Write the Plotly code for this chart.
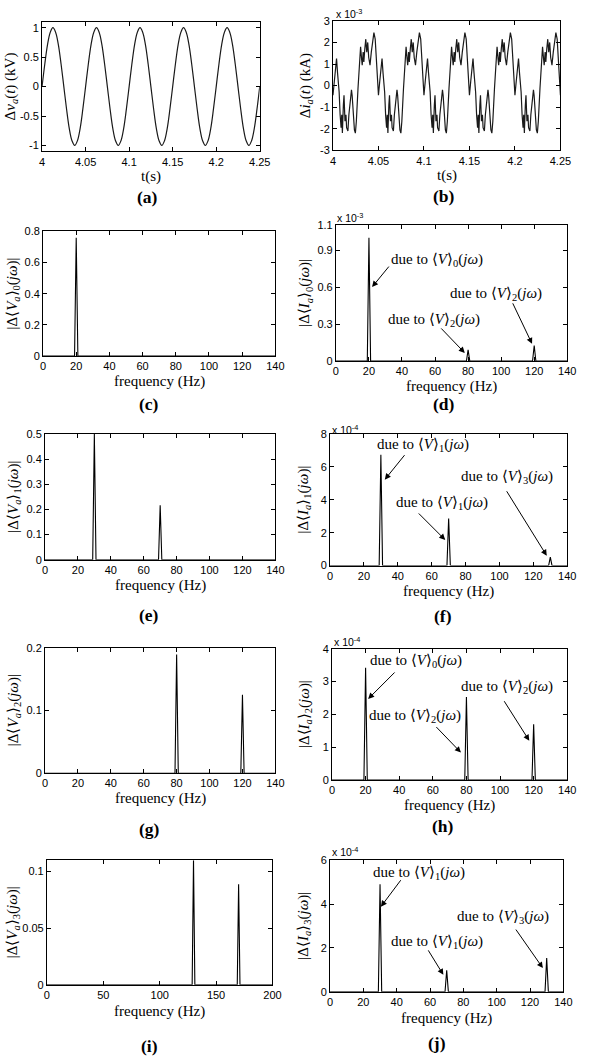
import plotly.graph_objects as go

W, H = 589, 1063

# ---------------- data ----------------
# (a) voltage: one period, repeated over the window
a_period_s = 0.05
a_offset_ms = [0, 3.125, 6.25, 9.375, 12.5, 15.625, 18.75, 21.875,
               25, 28.125, 31.25, 34.375, 37.5, 40.625, 43.75, 46.875]
a_values = [0, 0.38, 0.71, 0.92, 1.0, 0.92, 0.71, 0.38,
            0, -0.38, -0.71, -0.92, -1.0, -0.92, -0.71, -0.38]
n_periods = 5

# (b) current (x 10^-3 kA): one period
b_offset_ms = [0, 1.43, 3.21, 3.93, 5.0, 6.79, 7.86, 8.93, 9.64, 10.36,
               11.43, 12.14, 13.21, 14.29, 15.0, 16.43, 17.5, 19.29, 20.36, 21.07,
               22.14, 23.57, 24.64, 25.71, 27.5, 29.29, 30.36, 31.43, 32.14, 33.21,
               33.93, 35.0, 36.07, 37.14, 38.21, 39.29, 40.71, 42.14, 43.57, 45.0,
               46.43, 47.86, 49.29]
b_values = [-0.45, 0.2, 0.95, 1.25, 0.6, -0.3, -1.35, -1.95, -1.35, -2.2,
            -0.9, -0.45, -1.65, -1.35, -1.95, -2.1, -1.35, -0.45, -0.2, -0.45,
            -1.2, -2.05, -2.2, -1.65, -0.15, 1.1, 1.8, 1.25, 0.95, 1.55,
            1.1, 1.7, 2.15, 1.55, 2.0, 1.3, 0.95, 1.55, 2.15, 2.45,
            2.15, 1.1, 0.2]

# spectra (peak frequency in Hz, peak magnitude in displayed units)
c_freq = [20];            c_mag = [0.76]
d_freq = [20, 80, 120];   d_mag = [1.0, 0.09, 0.125]      # x 10^-3
e_freq = [30, 70];        e_mag = [0.5, 0.217]
f_freq = [30, 70, 130];   f_mag = [6.75, 2.87, 0.52]      # x 10^-4
g_freq = [80, 120];       g_mag = [0.189, 0.125]
h_freq = [20, 80, 120];   h_mag = [3.42, 2.53, 1.70]      # x 10^-4
i_freq = [130, 170];      i_mag = [0.11, 0.0888]
j_freq = [30, 70, 130];   j_mag = [4.9, 0.98, 1.54]       # x 10^-4

t_ticks = [4, 4.05, 4.1, 4.15, 4.2, 4.25]
t_ticktext = ["4", "4.05", "4.1", "4.15", "4.2", "4.25"]
f_ticks140 = [0, 20, 40, 60, 80, 100, 120, 140]
f_ticks200 = [0, 50, 100, 150, 200]

# ---------------- layout boxes (pixels: left, right, top, bottom) ----------------
boxes = {
    1: (40, 263, 16, 147),
    2: (338, 571, 15, 146),
    3: (41, 279, 228, 354),
    4: (341, 578, 222, 359),
    5: (43, 279, 433, 560),
    6: (335, 578, 433, 566),
    7: (43, 279, 649, 776),
    8: (337, 578, 650, 783),
    9: (45, 276, 864, 990),
    10: (335, 574, 864, 997),
}

def pxx(x):
    return x / W

def pxy(y):
    return 1 - y / H

SERIF = "Liberation Serif, Times New Roman, serif"
SANS = "Liberation Sans, Arial, sans-serif"

fig = go.Figure()

# (a)
ta, va = [], []
for k in range(n_periods):
    for o, v in zip(a_offset_ms, a_values):
        ta.append(4 + k * a_period_s + o / 1000.0)
        va.append(v)
ta.append(4 + n_periods * a_period_s)
va.append(a_values[0])
fig.add_trace(go.Scatter(x=ta, y=va, mode="lines", line=dict(color="#1a1a1a", width=1.2, shape="spline"),
                         xaxis="x", yaxis="y", showlegend=False))

# (b)
tb, vb = [], []
for k in range(n_periods):
    for o, v in zip(b_offset_ms, b_values):
        tb.append(4 + k * a_period_s + o / 1000.0)
        vb.append(v)
tb.append(4 + n_periods * a_period_s)
vb.append(b_values[0])
fig.add_trace(go.Scatter(x=tb, y=vb, mode="lines", line=dict(color="#1a1a1a", width=1.2),
                         xaxis="x2", yaxis="y2", showlegend=False))


def spectrum(freqs, mags, xmax, half):
    xs, ys = [0], [0]
    for f, m in zip(freqs, mags):
        xs += [f - half, f, f + half]
        ys += [0, m, 0]
    xs.append(xmax)
    ys.append(0)
    return xs, ys

spectra = [
    (3, c_freq, c_mag, 140, 1.0),
    (4, d_freq, d_mag, 140, 1.0),
    (5, e_freq, e_mag, 140, 1.0),
    (6, f_freq, f_mag, 140, 1.0),
    (7, g_freq, g_mag, 140, 1.0),
    (8, h_freq, h_mag, 140, 1.0),
    (9, i_freq, i_mag, 200, 1.2),
    (10, j_freq, j_mag, 140, 1.0),
]
for idx, fr, mg, xmax, half in spectra:
    xs, ys = spectrum(fr, mg, xmax, half)
    fig.add_trace(go.Scatter(x=xs, y=ys, mode="lines", line=dict(color="black", width=1.1),
                             xaxis=f"x{idx}", yaxis=f"y{idx}", showlegend=False))

axis_style = dict(showline=True, linecolor="black", linewidth=1, mirror="ticks",
                  ticks="inside", ticklen=4, tickcolor="black", showgrid=False,
                  zeroline=False, tickfont=dict(family=SANS, size=11, color="black"))

x_specs = {
    1: dict(range=[4, 4.25], tickvals=t_ticks, ticktext=t_ticktext),
    2: dict(range=[4, 4.25], tickvals=t_ticks, ticktext=t_ticktext),
    9: dict(range=[0, 200], tickvals=f_ticks200),
}
y_specs = {
    1: dict(range=[-1.1, 1.1], tickvals=[-1, -0.5, 0, 0.5, 1], ticktext=["-1", "-0.5", "0", "0.5", "1"]),
    2: dict(range=[-3, 3], tickvals=[-3, -2, -1, 0, 1, 2, 3], ticktext=["-3", "-2", "-1", "0", "1", "2", "3"]),
    3: dict(range=[0, 0.8], tickvals=[0, 0.2, 0.4, 0.6, 0.8], ticktext=["0", "0.2", "0.4", "0.6", "0.8"]),
    4: dict(range=[0, 1.1], tickvals=[0, 0.3, 0.6, 0.9, 1.1], ticktext=["0", "0.3", "0.6", "0.9", "1.1"]),
    5: dict(range=[0, 0.5], tickvals=[0, 0.1, 0.2, 0.3, 0.4, 0.5], ticktext=["0", "0.1", "0.2", "0.3", "0.4", "0.5"]),
    6: dict(range=[0, 8], tickvals=[0, 2, 4, 6, 8]),
    7: dict(range=[0, 0.2], tickvals=[0, 0.1, 0.2], ticktext=["0", "0.1", "0.2"]),
    8: dict(range=[0, 4], tickvals=[0, 1, 2, 3, 4]),
    9: dict(range=[0, 0.11], tickvals=[0, 0.05, 0.1], ticktext=["0", "0.05", "0.1"]),
    10: dict(range=[0, 6], tickvals=[0, 2, 4, 6]),
}

layout_axes = {}
for i, (l, r, t, b) in boxes.items():
    xs = "xaxis" if i == 1 else f"xaxis{i}"
    ys = "yaxis" if i == 1 else f"yaxis{i}"
    xa = dict(axis_style)
    xa.update(domain=[pxx(l), pxx(r)], anchor="y" if i == 1 else f"y{i}")
    xa.update(x_specs.get(i, dict(range=[0, 140], tickvals=f_ticks140)))
    ya = dict(axis_style)
    ya.update(domain=[pxy(b), pxy(t)], anchor="x" if i == 1 else f"x{i}")
    ya.update(y_specs[i])
    layout_axes[xs] = xa
    layout_axes[ys] = ya

annotations = []

def ptext(text, x, y, size=14, family=SERIF, angle=0, xanchor="center", yanchor="middle"):
    annotations.append(dict(text=text, x=pxx(x), y=pxy(y), xref="paper", yref="paper",
                            showarrow=False, textangle=angle, xanchor=xanchor, yanchor=yanchor,
                            font=dict(family=family, size=size, color="black")))

# y axis titles
ylabels = {
    1: ("Δ<i>v<sub>a</sub></i>(<i>t</i>) (kV)", 8),
    2: ("Δ<i>i<sub>a</sub></i>(<i>t</i>) (kA)", 310),
    3: ("|Δ⟨<i>V<sub>a</sub></i>⟩<sub>0</sub>(<i>jω</i>)|", 10),
    4: ("|Δ⟨<i>I<sub>a</sub></i>⟩<sub>0</sub>(<i>jω</i>)|", 310),
    5: ("|Δ⟨<i>V<sub>a</sub></i>⟩<sub>1</sub>(<i>jω</i>)|", 11),
    6: ("|Δ⟨<i>I<sub>a</sub></i>⟩<sub>1</sub>(<i>jω</i>)|", 308),
    7: ("|Δ⟨<i>V<sub>a</sub></i>⟩<sub>2</sub>(<i>jω</i>)|", 12),
    8: ("|Δ⟨<i>I<sub>a</sub></i>⟩<sub>2</sub>(<i>jω</i>)|", 310),
    9: ("|Δ⟨<i>V<sub>a</sub></i>⟩<sub>3</sub>(<i>jω</i>)|", 10),
    10: ("|Δ⟨<i>I<sub>a</sub></i>⟩<sub>3</sub>(<i>jω</i>)|", 308),
}
for i, (txt, xc) in ylabels.items():
    l, r, t, b = boxes[i]
    ptext(txt, xc, (t + b) / 2, size=15, angle=-90)

# x axis titles
xtitle_y = {1: 172, 2: 171, 3: 380, 4: 385, 5: 586, 6: 592, 7: 802, 8: 809, 9: 1017, 10: 1024}
for i, yy in xtitle_y.items():
    l, r, t, b = boxes[i]
    ptext("t(s)" if i <= 2 else "frequency (Hz)", (l + r) / 2, yy, size=15)

# panel letters
letters = {1: ("a", 148, 193), 2: ("b", 452, 192), 3: ("c", 150, 403), 4: ("d", 452, 403),
           5: ("e", 150, 616), 6: ("f", 451, 617), 7: ("g", 150, 832), 8: ("h", 451, 829),
           9: ("i", 150, 1052), 10: ("j", 445, 1049)}
for i, (ch, xc, yc) in letters.items():
    ptext(f"<b>({ch})</b>", xc, yc, size=17.5)

# exponent labels
for xl, yl, e in [(339, 8, "-3"), (340, 214, "-3"), (335, 428, "-4"), (337, 643, "-4"), (335, 855, "-4")]:
    ptext(f"x 10<sup>{e}</sup>", xl, yl, size=10.5, family=SANS, xanchor="left")

# "due to" notes: (axis index, text sub, text x, text y, head x, head y, ax, ay)
V = "due to ⟨<i>V</i>⟩<sub>{}</sub>(<i>jω</i>)"
notes = [
    (4, 0, 61.4, 0.82, 21.9, 0.60, 18, -22),
    (4, 2, 59.1, 0.33, 78.0, 0.065, -25, -26),
    (4, 2, 96.9, 0.54, 118.7, 0.139, -20, -42),
    (6, 1, 54.7, 7.34, 32.3, 5.23, 21, -26),
    (6, 1, 66.2, 3.79, 68.0, 1.56, -28, -28),
    (6, 3, 104.3, 5.41, 127.9, 0.60, -41, -66),
    (8, 0, 50.0, 3.61, 21.5, 2.47, 28, -28),
    (8, 2, 49.4, 1.95, 76.7, 0.84, -26, -27),
    (8, 2, 104.0, 2.83, 117.4, 1.20, -26, -41),
    (10, 1, 53.3, 5.41, 30.5, 3.88, 21, -28),
    (10, 1, 64.4, 2.26, 68.0, 0.77, -16, -26),
    (10, 3, 103.7, 3.43, 127.7, 1.08, -28, -40),
]
for ax_i, sub, tx, ty, hx, hy, axp, ayp in notes:
    annotations.append(dict(text=V.format(sub), x=tx, y=ty, xref=f"x{ax_i}", yref=f"y{ax_i}",
                            showarrow=False, font=dict(family=SERIF, size=15, color="black")))
    annotations.append(dict(text="", x=hx, y=hy, xref=f"x{ax_i}", yref=f"y{ax_i}",
                            showarrow=True, ax=axp, ay=ayp, arrowhead=2, arrowsize=1.2,
                            arrowwidth=1, arrowcolor="black", standoff=0))

fig.update_layout(width=W, height=H, margin=dict(l=0, r=0, t=0, b=0),
                  paper_bgcolor="white", plot_bgcolor="white", showlegend=False,
                  annotations=annotations, **layout_axes)

fig.write_html("out.html", config={"displayModeBar": False},
               post_script="document.body.style.margin='0';document.body.style.padding='0';"
                           "document.documentElement.style.overflow='hidden';"
                           "document.body.style.overflow='hidden';")
